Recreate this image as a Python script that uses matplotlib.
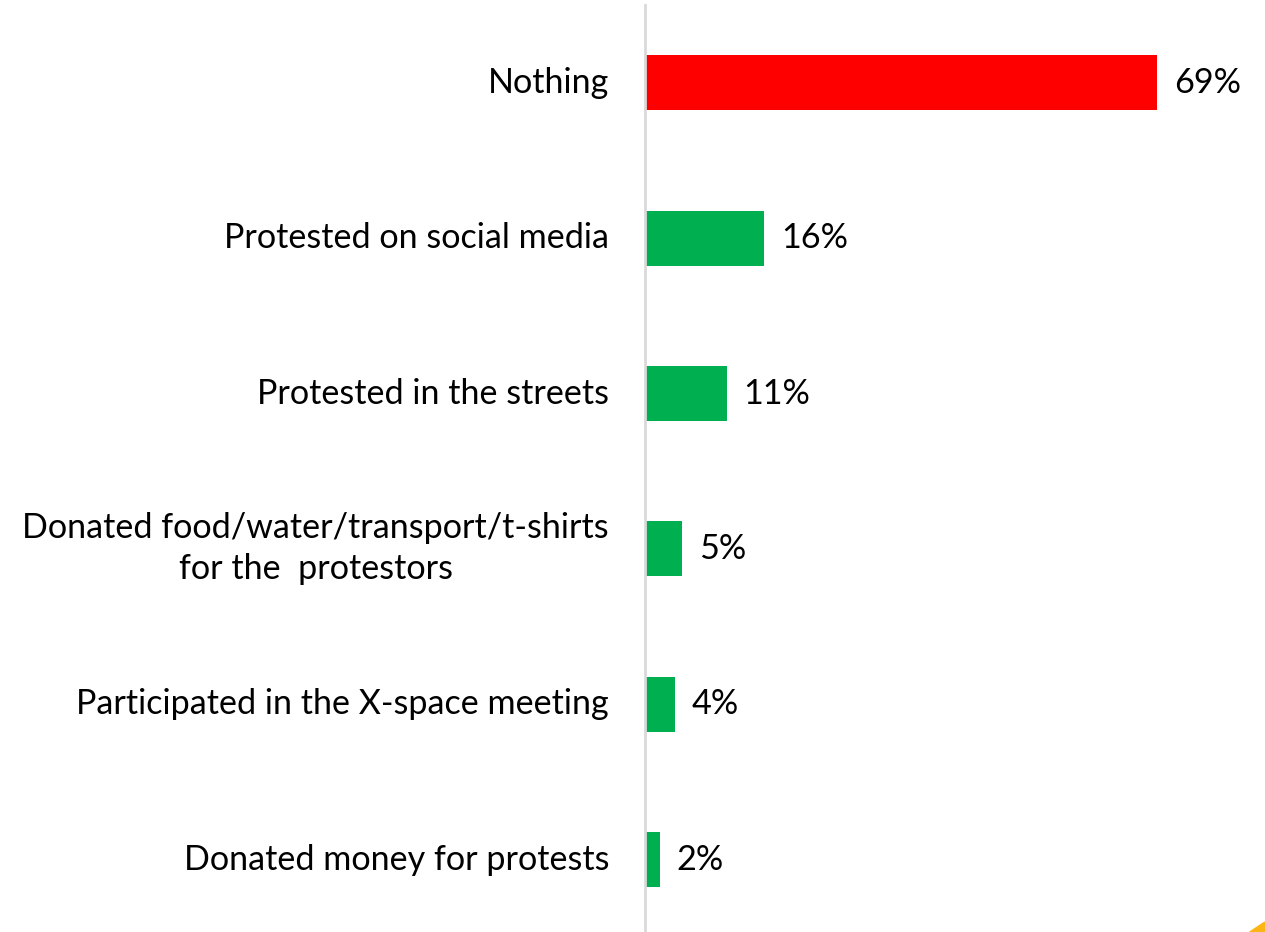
import matplotlib
matplotlib.use("Agg")
import matplotlib.pyplot as plt
from matplotlib.patches import Circle

categories = ["Nothing", "Protested on social media", "Protested in the streets",
              "Donated food/water/transport/t-shirts\nfor the  protestors",
              "Participated in the X-space meeting", "Donated money for protests"]
values = [69, 16, 11, 5, 4, 2]
value_labels = ["69%", "16%", "11%", "5%", "4%", "2%"]
colors = ["#FF0000", "#00B050", "#00B050", "#00B050", "#00B050", "#00B050"]

W, H = 1265, 932
fig = plt.figure(figsize=(W / 100, H / 100), dpi=100)
left = 645 / W
top_px = 5
height_px = 6 * 155.4
ax = fig.add_axes([left, (H - top_px - height_px) / H, 1 - left, height_px / H])

y = list(range(len(categories)))
ax.barh(y, values, height=0.354, color=colors)
ax.set_ylim(5.5, -0.5)
ax.set_xlim(0, 83.5)

font = "Lato"
fs = 24.6
for yi, v, lab in zip(y, values, value_labels):
    ax.annotate(lab, (v, yi), xytext=(17, 0), textcoords="offset pixels",
                va="center", ha="left", fontsize=fs, family=font, color="black")
for yi, c in zip(y, categories):
    ax.annotate(c, (0, yi), xytext=(-36, 0), textcoords="offset pixels",
                va="center", ha="right", multialignment="center", linespacing=1.35,
                fontsize=fs, family=font, color="black", annotation_clip=False)

ax.set_xticks([])
ax.set_yticks([])
for s in ["top", "right", "bottom"]:
    ax.spines[s].set_visible(False)
ax.spines["left"].set_color("#D9D9D9")
ax.spines["left"].set_linewidth(2)

circ = Circle((1340, -120), 150, transform=None, color="#FDB515", zorder=5)
fig.patches.append(circ)

fig.savefig("out.png", dpi=100)
